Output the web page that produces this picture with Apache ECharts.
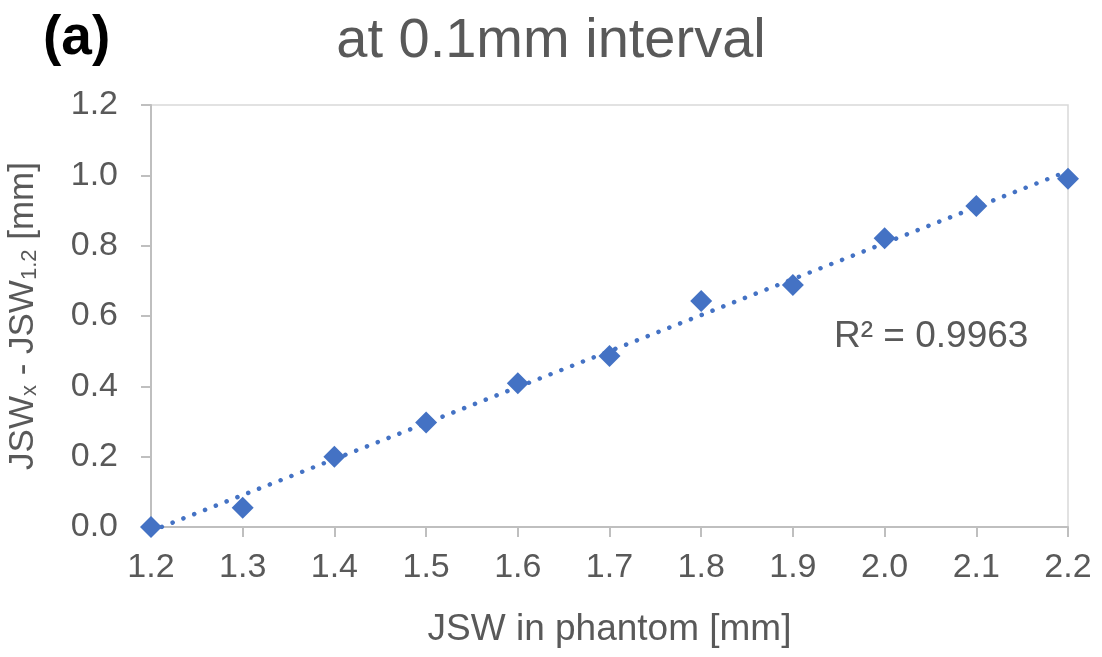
<!DOCTYPE html>
<html>
<head>
<meta charset="utf-8">
<script src="https://cdn.jsdelivr.net/npm/echarts@6/dist/echarts.min.js"></script>
<style>
  html, body { margin: 0; padding: 0; background: #ffffff; }
  #chart { width: 1102px; height: 657px; }
</style>
</head>
<body>
<div id="chart"></div>
<script>
// Joint space width measured in the phantom, stepped at 0.1 mm
const jswPhantom = [1.2, 1.3, 1.4, 1.5, 1.6, 1.7, 1.8, 1.9, 2.0, 2.1, 2.2];
// Measured difference JSWx - JSW1.2 [mm]
const jswDiff = [0.000, 0.055, 0.200, 0.297, 0.409, 0.486, 0.643, 0.688, 0.821, 0.913, 0.990];
const xTicks = ['1.2', '1.3', '1.4', '1.5', '1.6', '1.7', '1.8', '1.9', '2.0', '2.1', '2.2'];
const yTicks = ['0.0', '0.2', '0.4', '0.6', '0.8', '1.0', '1.2'];
const rSquaredLabel = 'R² = 0.9963';

// Least-squares linear trend through the measured points
function linearFit(xs, ys) {
  const n = xs.length;
  const mx = xs.reduce((a, b) => a + b, 0) / n;
  const my = ys.reduce((a, b) => a + b, 0) / n;
  let sxy = 0, sxx = 0;
  for (let i = 0; i < n; i++) {
    sxy += (xs[i] - mx) * (ys[i] - my);
    sxx += (xs[i] - mx) * (xs[i] - mx);
  }
  const slope = sxy / sxx;
  return { slope, intercept: my - slope * mx };
}
const fit = linearFit(jswPhantom, jswDiff);
const xFirst = jswPhantom[0];
const xLast = jswPhantom[jswPhantom.length - 1];
const trendPoints = [
  [xFirst, fit.intercept + fit.slope * xFirst],
  [xLast, fit.intercept + fit.slope * xLast]
];

const FONT = '"Liberation Sans", Arial, sans-serif';
const TEXT = '#595959';
const BLUE = '#4472C4';

const chart = echarts.init(document.getElementById('chart'), null, { renderer: 'canvas' });
chart.setOption({
  animation: false,
  backgroundColor: '#ffffff',
  title: [
    {
      text: '(a)',
      left: 38, top: 6,
      textStyle: { fontFamily: FONT, fontSize: 55, fontWeight: 'bold', color: '#000000' }
    },
    {
      text: 'at 0.1mm interval',
      left: 'center', top: 9,
      textStyle: { fontFamily: FONT, fontSize: 56, fontWeight: 'normal', color: TEXT }
    }
  ],
  grid: {
    left: 151, right: 34, top: 105, bottom: 130,
    outerBoundsMode: 'none',
    containLabel: false,
    show: true, borderColor: '#D9D9D9', borderWidth: 1.5
  },
  xAxis: {
    type: 'value',
    min: 1.2, max: 2.2, interval: 0.1,
    name: 'JSW in phantom [mm]',
    nameLocation: 'middle',
    nameGap: 84,
    nameTextStyle: { fontFamily: FONT, fontSize: 37, color: TEXT },
    axisLine: { show: true, lineStyle: { color: '#BFBFBF', width: 2 } },
    axisTick: { show: true, inside: false, length: 10, lineStyle: { color: '#BFBFBF', width: 2 } },
    splitLine: { show: false },
    axisLabel: {
      margin: 24,
      fontFamily: FONT, fontSize: 34, color: TEXT,
      formatter: v => xTicks[Math.round((v - xFirst) * 10)] ?? v.toFixed(1)
    }
  },
  yAxis: {
    type: 'value',
    min: 0, max: 1.2, interval: 0.2,
    name: '{m|JSW}{s|x}{m| - JSW}{s|1.2}{m| [mm]}',
    nameLocation: 'middle',
    nameGap: 110,
    nameRotate: 90,
    nameTextStyle: {
      color: TEXT,
      rich: {
        m: { fontFamily: FONT, fontSize: 35, color: TEXT, lineHeight: 40, verticalAlign: 'bottom' },
        s: { fontFamily: FONT, fontSize: 22, color: TEXT, lineHeight: 12, verticalAlign: 'bottom' }
      }
    },
    axisLine: { show: true, lineStyle: { color: '#BFBFBF', width: 2 } },
    axisTick: { show: true, inside: false, length: 10, lineStyle: { color: '#BFBFBF', width: 2 } },
    splitLine: { show: false },
    axisLabel: {
      margin: 33,
      fontFamily: FONT, fontSize: 34, color: TEXT,
      formatter: v => yTicks[Math.round(v * 5)] ?? v.toFixed(1)
    }
  },
  series: [
    {
      name: 'Linear trend',
      type: 'line',
      data: trendPoints,
      showSymbol: false,
      symbol: 'none',
      z: 2,
      lineStyle: { color: BLUE, width: 4.5, type: [0.1, 11.5], cap: 'round', opacity: 1 },
      silent: true
    },
    {
      name: 'JSWx - JSW1.2',
      type: 'scatter',
      data: jswPhantom.map((x, i) => [x, jswDiff[i]]),
      symbol: 'diamond',
      symbolSize: [22, 22],
      z: 3,
      itemStyle: { color: BLUE, opacity: 1 }
    }
  ],
  graphic: [
    {
      type: 'text',
      left: 834, top: 318,
      style: { text: rSquaredLabel, font: '37px ' + FONT, fill: TEXT }
    }
  ]
});
</script>
</body>
</html>
